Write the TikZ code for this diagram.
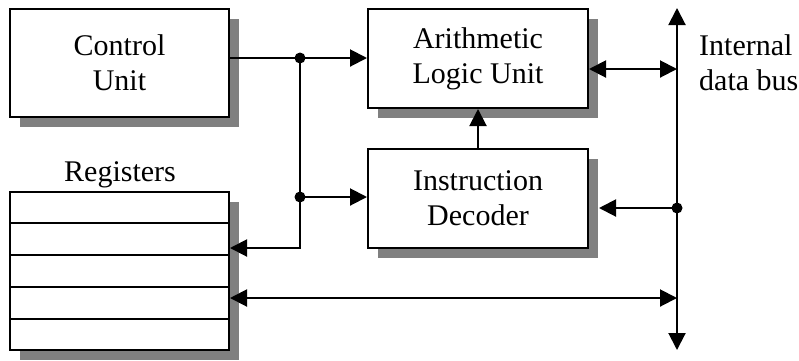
\documentclass[tikz,border=0pt]{standalone}
\usepackage{fontspec}
\setmainfont{Liberation Serif}
\usetikzlibrary{arrows.meta,shadows,calc}
\begin{document}
\begin{tikzpicture}[x=1pt,y=-1pt,
  box/.style={draw=black,line width=2pt,fill=white,inner sep=0pt,align=center,
    font=\fontsize{30}{35}\selectfont,
    drop shadow={shadow xshift=10pt,shadow yshift=-10pt,fill=black!50,opacity=1}},
  tip/.tip={Triangle[length=17pt,width=17pt]},
  arr/.style={line width=2pt,-tip},
  arrboth/.style={line width=2pt,tip-tip},
  dot/.style={circle,fill=black,inner sep=0pt,minimum size=11pt},
  lbl/.style={font=\fontsize{30}{35}\selectfont,inner sep=0pt,align=left}]
\useasboundingbox (0,0) rectangle (799,360);
% boxes
\node[box,minimum width=219pt,minimum height=108pt] (cu) at (119.5,63) {Control\\Unit};
\node[box,minimum width=220pt,minimum height=99pt] (alu) at (478,58.5) {Arithmetic\\Logic Unit};
\node[box,minimum width=220pt,minimum height=99pt] (id) at (478,198.5) {Instruction\\Decoder};
\node[box,minimum width=219pt,minimum height=158pt] (reg) at (119.5,271) {};
\foreach \i in {1,...,4}
  \draw[line width=2pt] ($(reg.north west)!\i/5!(reg.south west)$) -- ($(reg.north east)!\i/5!(reg.south east)$);
\node[lbl,anchor=base] (reglbl) at (120,181) {Registers};
\node[lbl,anchor=west] (buslbl) at (699,63) {Internal\\data bus};
% bus
\coordinate (bustop) at (677,8);
\coordinate (busbot) at (677,350);
\draw[arrboth] (busbot) -- (bustop);
% junctions
\coordinate (j1) at (300,58);
\coordinate (j2) at (300,197);
\coordinate (j3) at (300,248);
\coordinate (b1) at (677,69);
\coordinate (b2) at (677,208);
\coordinate (b3) at (677,298);
\draw[arr] (cu.east |- j1) -- (alu.west |- j1);
\draw[arr] (j1) -- (j3) -- (reg.east |- j3);
\draw[arr] (j2) -- (id.west |- j2);
\draw[arr] (id.north) -- (alu.south);
\draw[arrboth] (alu.east |- b1) -- (b1);
\draw[arr] (b2) -- ([xshift=10pt]id.east |- b2);
\draw[arrboth] (reg.east |- b3) -- (b3);
\node[dot] (d1) at (j1) {};
\node[dot] (d2) at (j2) {};
\node[dot] (d3) at (b2) {};
\end{tikzpicture}
\end{document}
